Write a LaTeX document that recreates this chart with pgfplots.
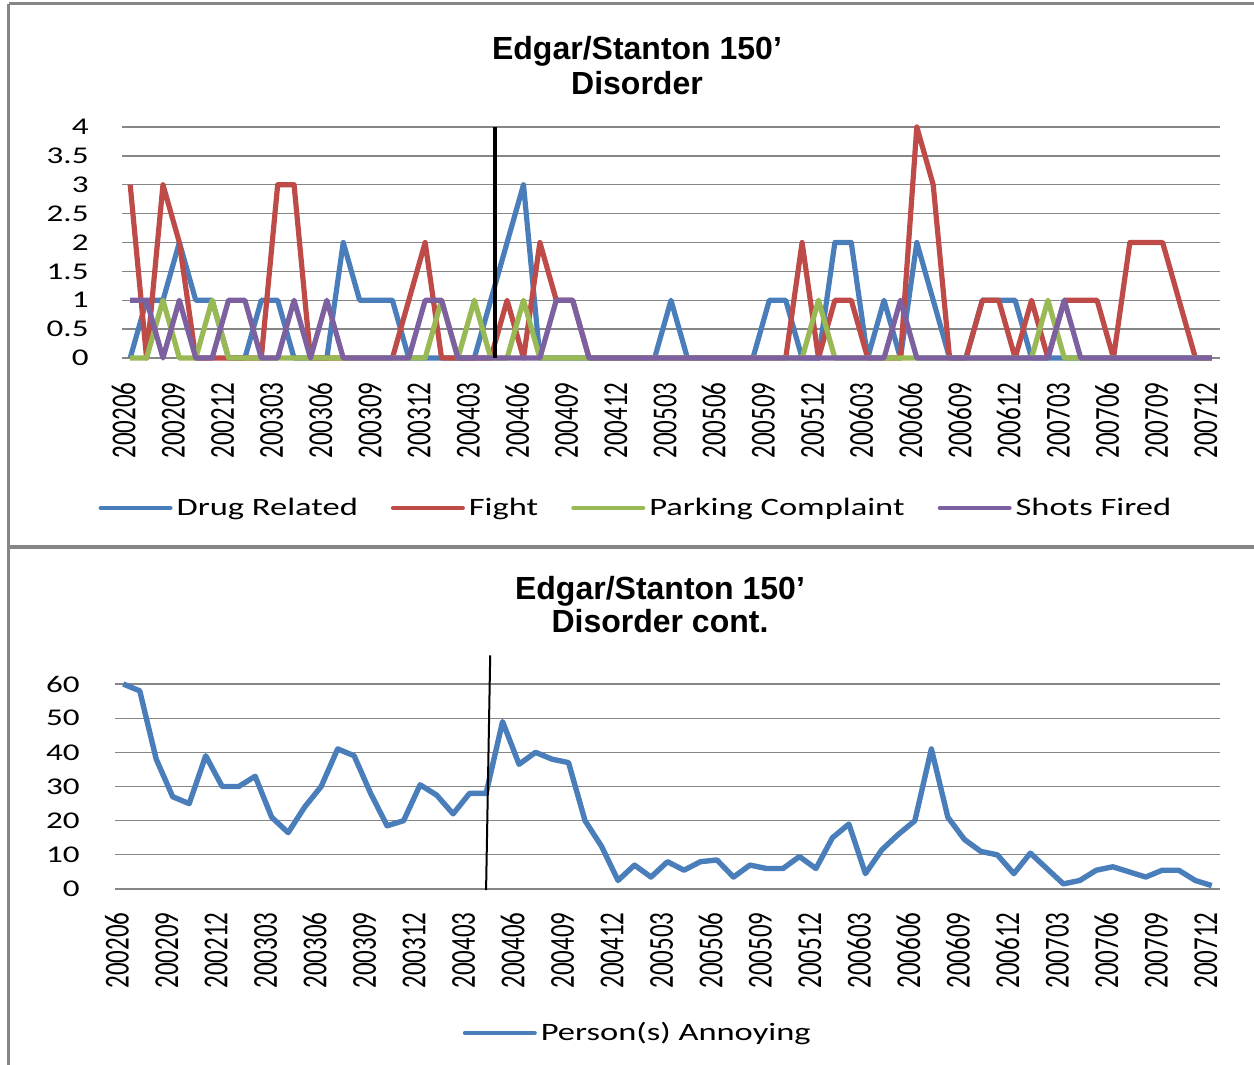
\documentclass[border=0pt]{standalone}
\usepackage{fontspec}
\usepackage{graphicx}
\usepackage{pgfplots}
\pgfplotsset{compat=1.18}
\usepackage{pgfplotstable}
\setmainfont{Liberation Sans}
\newfontfamily\wfont{Carlito}[FakeStretch=1.38]
\newfontfamily\nfont{Carlito}
\definecolor{cblue}{HTML}{4A7EBB}
\definecolor{cred}{HTML}{BE4B48}
\definecolor{cgreen}{HTML}{98B954}
\definecolor{cpurple}{HTML}{7D60A0}
\definecolor{cgrid}{HTML}{868686}
\newcommand\sx[1]{\scalebox{1}[1.4]{#1}}

\pgfplotstableread{
i drug fight park shots
0 0 3 0 1
1 1 0 0 1
2 1 3 1 0
3 2 2 0 1
4 1 0 0 0
5 1 0 1 0
6 0 0 0 1
7 0 0 0 1
8 1 0 0 0
9 1 3 0 0
10 0 3 0 1
11 0 0 0 0
12 0 0 0 1
13 2 0 0 0
14 1 0 0 0
15 1 0 0 0
16 1 0 0 0
17 0 1 0 0
18 0 2 0 1
19 0 0 1 1
20 0 0 0 0
21 0 0 1 0
22 1 0 0 0
23 2 1 0 0
24 3 0 1 0
25 0 2 0 0
26 0 1 0 1
27 0 1 0 1
28 0 0 0 0
29 0 0 0 0
30 0 0 0 0
31 0 0 0 0
32 0 0 0 0
33 1 0 0 0
34 0 0 0 0
35 0 0 0 0
36 0 0 0 0
37 0 0 0 0
38 0 0 0 0
39 1 0 0 0
40 1 0 0 0
41 0 2 0 0
42 0 0 1 0
43 2 1 0 0
44 2 1 0 0
45 0 0 0 0
46 1 0 0 0
47 0 0 0 1
48 2 4 0 0
49 1 3 0 0
50 0 0 0 0
51 0 0 0 0
52 1 1 0 0
53 1 1 0 0
54 1 0 0 0
55 0 1 0 0
56 0 0 1 0
57 0 1 0 1
58 0 1 0 0
59 0 1 0 0
60 0 0 0 0
61 0 2 0 0
62 0 2 0 0
63 0 2 0 0
64 0 1 0 0
65 0 0 0 0
66 0 0 0 0
}\disorder

\pgfplotstableread{
i annoy
0 60
1 58
2 38
3 27
4 25
5 39
6 30
7 30
8 33
9 21
10 16.5
11 24
12 30
13 41
14 39
15 28
16 18.5
17 20
18 30.5
19 27.5
20 22
21 28
22 28
23 49
24 36.5
25 40
26 38
27 37
28 20
29 12.5
30 2.5
31 7
32 3.5
33 8
34 5.5
35 8
36 8.5
37 3.5
38 7
39 6
40 6
41 9.5
42 6
43 15
44 19
45 4.5
46 11.5
47 16
48 20
49 41
50 21
51 14.5
52 11
53 10
54 4.5
55 10.5
56 6
57 1.5
58 2.5
59 5.5
60 6.5
61 5
62 3.5
63 5.5
64 5.5
65 2.5
66 1
}\annoying

\pgfplotsset{
  common/.style={
    scale only axis,
    anchor=south west,
    xmin=-0.5, xmax=66.5,
    xtick={0,3,...,66},
    xticklabels={\sx{200206},\sx{200209},\sx{200212},\sx{200303},\sx{200306},\sx{200309},\sx{200312},\sx{200403},\sx{200406},\sx{200409},\sx{200412},\sx{200503},\sx{200506},\sx{200509},\sx{200512},\sx{200603},\sx{200606},\sx{200609},\sx{200612},\sx{200703},\sx{200706},\sx{200709},\sx{200712}},
    xticklabel style={rotate=90, anchor=mid east, inner sep=0pt, font=\nfont\fontsize{12.5}{14}\selectfont},
    yticklabel style={anchor=east, inner sep=0pt, font=\wfont\fontsize{12}{14}\selectfont},
    ymajorgrids,
    grid style={cgrid, line width=0.65pt},
    axis line style={draw=none},
    major tick length=0pt,
    tick style={draw=none},
    clip=false,
    legend style={draw=none, fill=none, anchor=center, inner sep=0pt,
      font=\wfont\fontsize{12.5}{14}\selectfont,
      nodes={inner xsep=2pt, inner ysep=0pt},
      /tikz/every even column/.append style={column sep=14.5pt}},
    legend image code/.code={\draw[#1, line width=2pt, line cap=round] (0pt,0pt) -- (35pt,0pt);},
  },
  ser/.style={line width=2.6pt, line join=round, mark=none},
}

\begin{document}
\begin{tikzpicture}
\path[use as bounding box] (0,0) rectangle (627pt,-532.5pt);
% frames
\draw[cgrid, line width=1.5pt] (4.25pt,-2pt) -- (627pt,-2pt);
\draw[cgrid, line width=1.5pt] (4.25pt,-2pt) -- (4.25pt,-532.5pt);
\draw[cgrid, line width=1.8pt] (4.25pt,-273.5pt) -- (627pt,-273.5pt);
% titles
\node[anchor=base, font=\bfseries\fontsize{16}{18}\selectfont, inner sep=0pt] at (318.5pt,-30pt) {Edgar/Stanton 150’};
\node[anchor=base, font=\bfseries\fontsize{16}{18}\selectfont, inner sep=0pt] at (318.5pt,-47.5pt) {Disorder};
\node[anchor=base, font=\bfseries\fontsize{16}{18}\selectfont, inner sep=0pt] at (330pt,-299.5pt) {Edgar/Stanton 150’};
\node[anchor=base, font=\bfseries\fontsize{16}{18}\selectfont, inner sep=0pt] at (330pt,-316pt) {Disorder cont.};

\begin{axis}[common,
  at={(61pt,-179pt)}, width=549pt, height=115.5pt,
  ymin=0, ymax=4,
  ytick={0,0.5,1,1.5,2,2.5,3,3.5,4},
  yticklabels={0,0.5,1,1.5,2,2.5,3,3.5,4},
  xticklabel shift=12pt,
  yticklabel shift=16.5pt,
  legend columns=4,
  legend style={at={(0.4690,-0.649)}},
]
\addplot[ser, cblue] table[x=i, y=drug] {\disorder};
\addlegendentry{Drug Related}
\addplot[ser, cred] table[x=i, y=fight] {\disorder};
\addlegendentry{Fight}
\addplot[ser, cgreen] table[x=i, y=park] {\disorder};
\addlegendentry{Parking Complaint}
\addplot[ser, cpurple] table[x=i, y=shots] {\disorder};
\addlegendentry{Shots Fired}
\draw[black, line width=1.8pt] (axis cs:22.27,0) -- (axis cs:22.27,4);
\end{axis}

\begin{axis}[common,
  at={(57.5pt,-444.5pt)}, width=552.5pt, height=102.5pt,
  ymin=0, ymax=60,
  ytick={0,10,...,60},
  yticklabels={0,10,20,30,40,50,60},
  xticklabel shift=11.5pt,
  yticklabel shift=17.5pt,
  legend style={at={(0.474,-0.702)}},
]
\addplot[ser, cblue, line width=2.7pt] table[x=i, y=annoy] {\annoying};
\addlegendentry{Person(s) Annoying}
\draw[black, line width=1pt] (axis cs:22.0,-0.3) -- (axis cs:22.25,68.4);
\end{axis}
\end{tikzpicture}
\end{document}
